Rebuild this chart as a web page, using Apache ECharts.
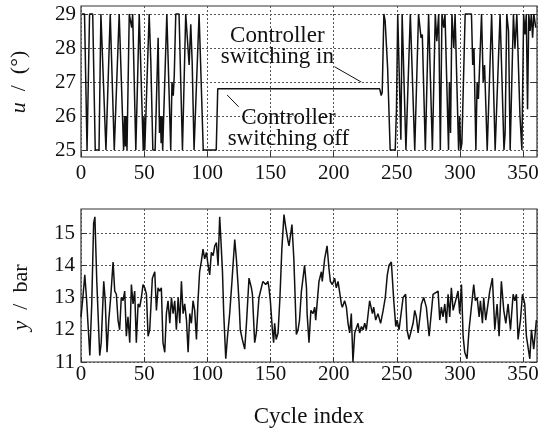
<!DOCTYPE html>
<html>
<head>
<meta charset="utf-8">
<script src="https://cdn.jsdelivr.net/npm/echarts@6/dist/echarts.min.js"></script>
<style>
  html, body { margin: 0; padding: 0; background: #ffffff; }
  #chart { width: 542px; height: 432px; }
</style>
</head>
<body>
<div id="chart"></div>
<script>
// ---- data: [cycle index, value] turning points ----
var uPoints = [
  [0,29],[2,29],[4,25],[6,29],[8.5,29],[10.5,25],[13.5,25],[15,29],[16.5,29],[19,25],[20,25],
  [22.4,29],[23,29],[25.6,25],[27,25],[29.5,29],[30.5,29],[33,25],[33.8,26],[34.4,25.1],[35,26],
  [35.7,25],[37.5,29],[39.4,28.6],[40.2,29],[41.4,29],[42.7,25],[44,25],[45.4,29],[46.2,29],
  [48.6,25],[49.2,26],[49.8,25],[51,25],[53.3,29],[54.6,27.6],[56.2,25],[58,25],[60.4,28.3],
  [61.5,25.5],[62.2,26],[62.8,25.2],[63.5,26],[64,25],[65,25],[67.3,29],[68.2,29],[70.4,25],
  [71.4,27],[72.4,26.6],[73.2,27.2],[74.4,29],[77,29],[79.7,25],[80.6,25],[82.3,29],[83.6,29],
  [85,27.5],[86.3,28.7],[87.4,27.6],[88.9,25],[90.4,25],[92.9,29],[93.7,29],[96.2,25],[106.5,25],
  [107.7,26.8],[236.2,26.8],[237.4,26.6],[238.2,26.7],[239.5,29],[240.5,28.8],[242.5,27.4],
  [244.5,25],[248.5,25],[249.5,26.2],[250.5,29],[251.5,29],[253,25.3],[254,29],[255.2,29],
  [257,25],[258,25],[260.5,29],[261.8,29],[264,25],[265,25],[267,29],[268,29],[269,28.3],
  [270,28.4],[272.4,25],[273.2,25],[275,29],[276.3,29],[278,25],[280.3,29],[281.5,28.2],[283,29],
  [284.3,25],[285.6,29],[287,28.6],[288,29],[290.8,25],[291.5,27],[292.4,25.5],[293.5,29],
  [295,28],[296,29],[298.8,25],[299.6,26],[300.5,25],[301.4,25.2],[304,29],[309,29],[310,27.5],
  [311,28],[312.5,25],[313.5,27],[314.5,26.5],[315.3,27.3],[317,29],[318.3,27],[319.4,27.5],
  [321.5,25],[322.5,25],[325,29],[326.5,29],[327.8,25],[329,25],[331.7,29],[333,29],[334.8,25],
  [335.7,25.5],[337,29],[338.4,28.5],[339.7,25],[341,25],[342.3,29],[343.5,28],[345,29],
  [346.3,29],[347.5,26],[349,25],[350.4,29],[351.5,28.4],[352.5,29],[353.5,26.2],[354.5,29],
  [355.5,28.5],[356.5,29],[357.5,28.3],[358.5,29],[360,28.6]
];
var yPoints = [
  [0,12.4],[1.5,13.0],[3,13.7],[4.5,12.9],[5.5,12.2],[7,11.2],[8.5,12.8],[10,15.3],[11,15.5],
  [12.5,13.5],[14.8,11.2],[16,11.6],[18,13.5],[19.2,12.9],[20.6,11.3],[22,12.3],[23.5,13.0],
  [25.4,14.1],[26.7,13.2],[28,13.1],[29.3,12.3],[30.6,12.0],[31.9,13.0],[33.3,12.9],[34.6,13.2],
  [35.9,11.8],[37.2,12.4],[38.6,11.6],[39.9,13.4],[41.2,12.8],[42.5,13.2],[43.8,11.6],[45.2,12.8],
  [46.5,12.7],[47.8,13.0],[49.1,13.4],[50.5,13.3],[51.8,13.1],[53.1,11.8],[54.4,12.0],[56.5,13.6],
  [58.4,13.8],[59.7,12.6],[61,13.3],[62.3,13.2],[63.6,13.3],[64.9,11.6],[66.3,11.3],[67.6,12.5],
  [68.9,12.9],[70.3,12.2],[71.6,13.0],[72.9,12.5],[74.2,12.9],[75.5,12.0],[76.9,13.0],[78.2,12.2],
  [79.5,13.5],[80.8,12.5],[82.1,12.8],[83.5,12.3],[84.8,11.3],[86.1,12.5],[87.4,12.2],[88.7,12.9],
  [90,12.6],[91.4,11.7],[92.5,12.8],[93.9,13.8],[95.2,14.1],[96.6,14.5],[97.9,14.2],[99.3,14.4],
  [100.6,14.0],[101.9,13.7],[103.2,14.4],[104.6,14.3],[105.9,14.6],[107.2,14.7],[108.5,14.0],
  [109.8,15.5],[111,14.6],[112,13.8],[113,12.5],[114.6,11.1],[116,11.8],[117.7,12.5],[119.5,13.5],
  [121.7,14.8],[123,14.2],[124.3,13.4],[125.2,12.8],[126.1,12.0],[127.7,11.7],[129.6,11.4],
  [131,12.2],[133,13.6],[134.9,13.3],[135.7,13.1],[137.5,11.6],[138.8,11.9],[140.9,13.0],
  [144,13.5],[146.2,13.4],[148,13.5],[148.8,13.3],[149.9,12.9],[151.5,12.0],[152.5,11.6],
  [153.3,12.2],[154.5,11.7],[156,11.9],[157.5,13.0],[159,14.5],[160.7,15.57],[162,15.2],
  [163.9,14.75],[164.7,14.6],[167,15.26],[168.5,14.2],[169.7,12.8],[170.5,11.85],[171.8,12.0],
  [173,12.3],[174.5,13.2],[177,14.0],[178.5,13.3],[179,12.5],[180.5,11.6],[182,12.6],[183.7,12.5],
  [185,12.7],[185.8,12.3],[188.4,13.5],[190.3,13.8],[191,13.5],[192.9,14.2],[194.8,14.6],
  [196.3,13.9],[197.4,13.5],[199,13.4],[200.8,13.6],[202.1,13.3],[203.5,13.5],[206.1,12.8],
  [206.9,12.7],[208.7,12.9],[210.1,12.7],[211.4,12.2],[212.7,11.9],[214,12.5],[215.3,11.0],
  [216.7,11.9],[218,11.9],[219.3,12.2],[220.6,11.9],[222,12.1],[223.3,12.0],[224.6,12.2],
  [225.9,12.0],[228.5,12.9],[230.7,12.5],[231.7,12.7],[233.3,12.3],[235.1,12.5],[236.5,12.3],
  [237.2,12.2],[239.2,12.6],[240.9,13.0],[242.5,13.7],[243.9,14.0],[245.7,14.1],[247.6,12.9],
  [249.2,12.1],[250.2,12.3],[251.8,12.0],[255,13.0],[257,13.1],[258.1,12.0],[259.7,11.7],
  [261.6,12.0],[262.9,12.2],[264.2,12.6],[265.5,12.4],[266.9,11.9],[269.5,12.8],[271.3,13.0],
  [273.4,12.7],[275.6,11.8],[278.7,13.1],[282.7,13.2],[284,12.3],[285.3,12.7],[286.6,12.4],
  [288,12.8],[289.3,12.2],[290.6,13.1],[291.9,12.4],[293.2,13.3],[294.6,12.6],[297.2,13.0],
  [298.5,13.2],[299.8,12.5],[301.2,13.4],[302.5,11.8],[303.8,11.3],[305.6,11.1],[307.2,12.0],
  [310.9,13.4],[312.2,12.9],[313.6,13.0],[315.2,12.4],[316.2,12.9],[317.8,12.2],[318.8,13.0],
  [320.4,12.3],[321.5,12.6],[323.6,13.2],[325.7,13.6],[327.6,12.0],[329.4,12.8],[331,11.8],
  [332.8,13.5],[334.7,12.6],[336.3,12.2],[338.1,12.8],[340,12.0],[342.1,13.1],[343.4,12.9],
  [344.7,13.1],[346,11.7],[347.9,12.3],[349.5,13.1],[351.3,12.8],[352.6,11.8],[355.3,11.1],
  [356.6,12.0],[358.4,11.4],[360.5,12.3]
];
var xRange = [0, 361];
var uRange = [25, 29];
var yRange = [11, 15];
var xLabelName = 'Cycle index';
var uAxisName = '{i|u}  /  (°)';
var yAxisName = '{i|y}  /  bar';
var noteIn = 'Controller\nswitching in';
var noteOff = 'Controller\nswitching off';

var FONT = 'Liberation Serif';
var TXT = '#111';
var dotted = { show: true, lineStyle: { type: [2, 2], color: '#555', width: 1 } };

function frameX(idx, margin, extra) {
  var a = {
    gridIndex: idx, type: 'value', min: xRange[0], max: xRange[1], interval: 50,
    axisLine: { show: false },
    axisTick: { show: true, inside: true, length: 5, lineStyle: { color: '#333' } },
    axisLabel: { fontFamily: FONT, fontSize: 21, color: TXT, margin: margin, showMaxLabel: false },
    splitLine: dotted
  };
  for (var k in extra) a[k] = extra[k];
  return a;
}
function hiddenX(idx) {
  return { gridIndex: idx, type: 'value', min: xRange[0], max: xRange[1], show: false };
}
function hiddenY(idx) {
  return { gridIndex: idx, type: 'value', min: 0, max: 1, show: false };
}
function dataY(idx, range, name, gap) {
  return {
    gridIndex: idx, type: 'value', min: range[0], max: range[1], interval: 1,
    axisLine: { show: false },
    axisTick: { show: true, inside: true, length: 6, lineStyle: { color: '#333' } },
    axisLabel: { fontFamily: FONT, fontSize: 21, color: TXT, margin: 6 },
    splitLine: dotted,
    name: name, nameLocation: 'middle', nameGap: gap,
    nameTextStyle: { fontFamily: FONT, fontSize: 22, color: TXT,
      rich: { i: { fontFamily: FONT, fontSize: 22, fontStyle: 'italic', color: TXT } } }
  };
}
function rightY(idx, range) {
  return {
    gridIndex: idx, type: 'value', position: 'right', min: range[0], max: range[1], interval: 1,
    axisLine: { show: false }, axisLabel: { show: false }, splitLine: { show: false },
    axisTick: { show: true, inside: true, length: 6, lineStyle: { color: '#333' } }
  };
}

var chart = echarts.init(document.getElementById('chart'), null, { renderer: 'canvas' });
chart.setOption({
  animation: false,
  backgroundColor: '#ffffff',
  textStyle: { fontFamily: FONT },
  grid: [
    { left: 81, right: 5, top: 6, height: 151, show: true, borderColor: '#333', borderWidth: 1.2, backgroundColor: 'transparent' },
    { left: 81, right: 5, top: 14, height: 136 },
    { left: 81, right: 5, top: 209, height: 153, show: true, borderColor: '#333', borderWidth: 1.2, backgroundColor: 'transparent' },
    { left: 81, right: 5, top: 233, height: 129 }
  ],
  xAxis: [
    frameX(0, 6, {}),
    hiddenX(1),
    frameX(2, 2, { name: xLabelName, nameLocation: 'middle', nameGap: 43,
      nameTextStyle: { fontFamily: FONT, fontSize: 23, color: TXT } }),
    hiddenX(3)
  ],
  yAxis: [
    hiddenY(0),
    dataY(1, uRange, uAxisName, 52),
    rightY(1, uRange),
    hiddenY(2),
    dataY(3, yRange, yAxisName, 49),
    rightY(3, yRange)
  ],
  series: [
    {
      type: 'line', xAxisIndex: 1, yAxisIndex: 1, data: uPoints,
      showSymbol: false, symbol: 'none', clip: false,
      lineStyle: { color: '#111', width: 1.5 },
      markLine: {
        silent: true, symbol: ['none', 'none'],
        lineStyle: { color: '#111', width: 1, type: 'solid' },
        label: { show: false },
        data: [
          [{ coord: [200.3, 27.45] }, { coord: [221.5, 27.0] }],
          [{ coord: [115.1, 26.62] }, { coord: [124.3, 26.27] }]
        ]
      },
      markPoint: {
        silent: true, symbol: 'circle', symbolSize: 0,
        label: { show: true, position: 'inside', fontFamily: FONT, fontSize: 23, lineHeight: 21,
                 color: TXT, align: 'center', verticalAlign: 'middle' },
        data: [
          { coord: [155, 28.04], label: { formatter: noteIn } },
          { coord: [163.8, 25.62], label: { formatter: noteOff } }
        ]
      }
    },
    {
      type: 'line', xAxisIndex: 3, yAxisIndex: 4, data: yPoints,
      showSymbol: false, symbol: 'none', clip: false,
      lineStyle: { color: '#111', width: 1.5 }
    }
  ]
});
</script>
</body>
</html>
